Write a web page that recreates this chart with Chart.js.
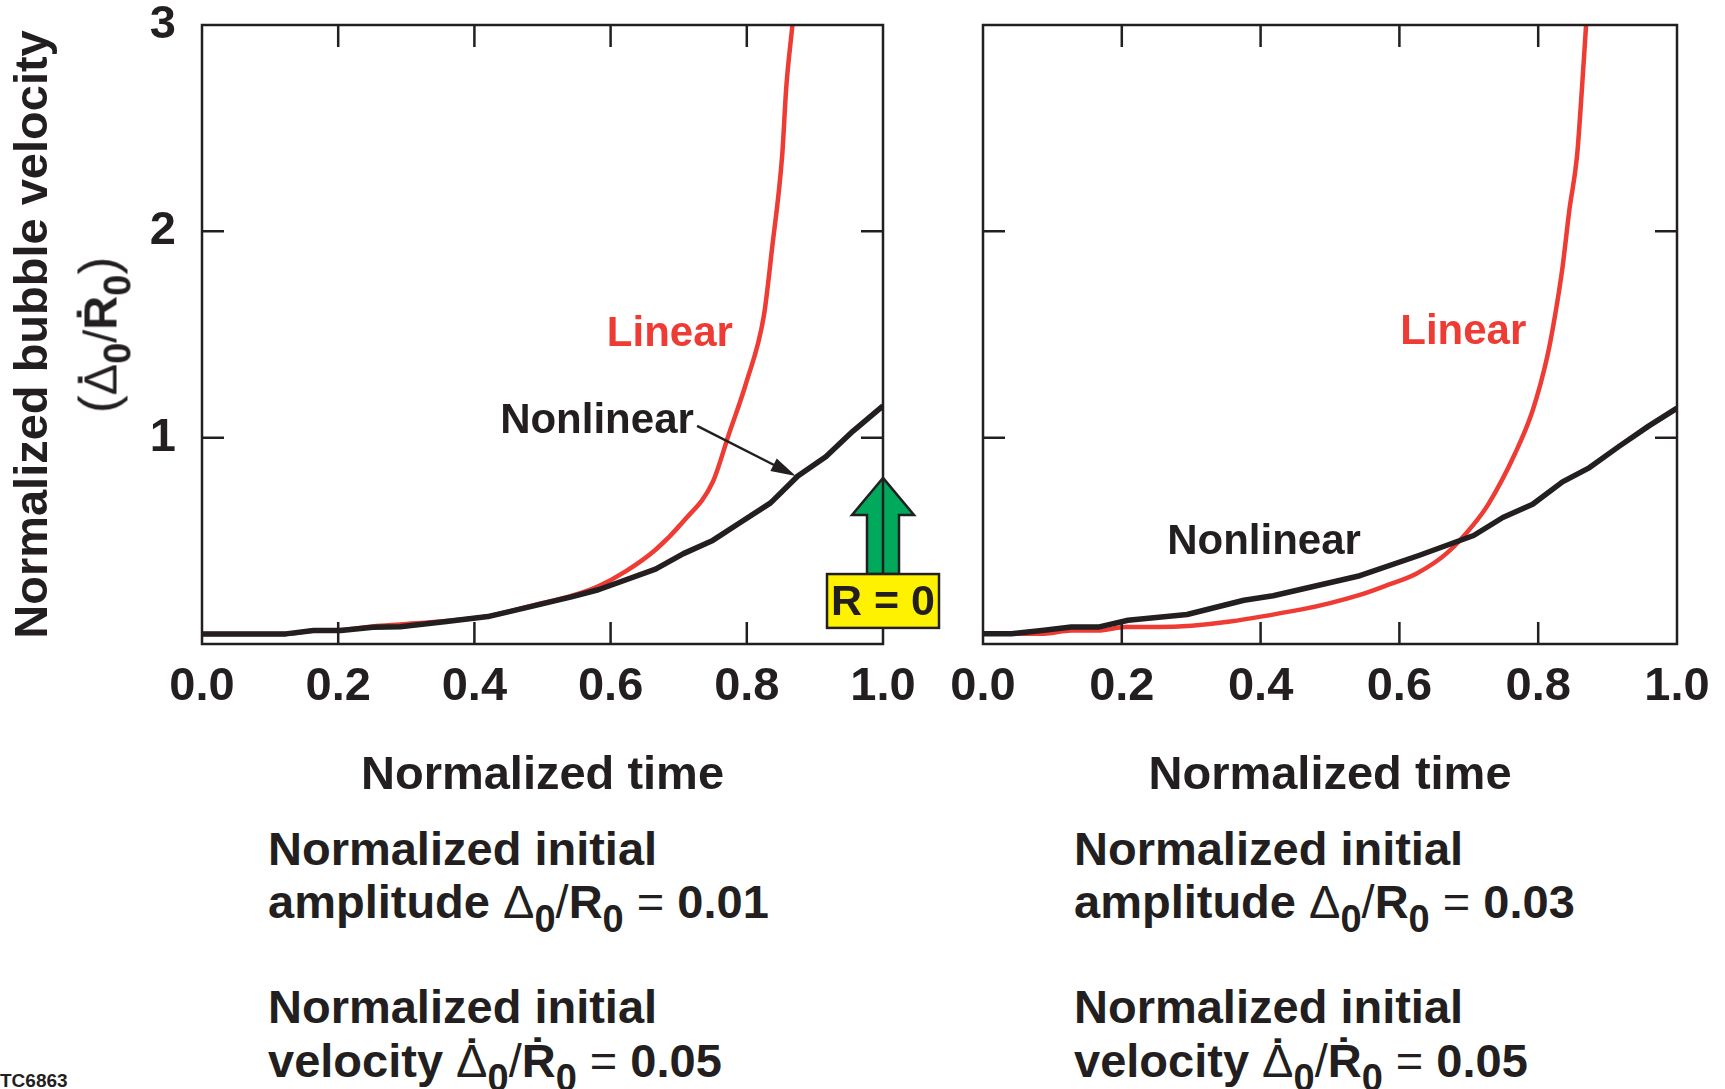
<!DOCTYPE html>
<html>
<head>
<meta charset="utf-8">
<script src="https://cdn.jsdelivr.net/npm/chart.js@4.4.1/dist/chart.umd.min.js"></script>
<style>
  html,body{margin:0;padding:0;background:#fff;}
  body{width:1725px;height:1089px;position:relative;overflow:hidden;font-family:'Liberation Sans',Arial,Helvetica,sans-serif;color:#231f20;}
  canvas{position:absolute;top:0;}
  #c1{left:0;} #c2{left:946px;}
  .txt{position:absolute;font-size:47px;font-weight:bold;line-height:47px;white-space:nowrap;}
  .thin{font-weight:normal;}
  .par{font-weight:normal;font-size:54px;}
  .dd{position:relative;display:inline-block;font-weight:normal;}
  .dot{position:absolute;left:50%;top:-5px;transform:translateX(-50%);font-weight:bold;}
  sub{font-size:38px;vertical-align:-14px;line-height:0;}
  #ytitle2{left:99px;top:335px;transform:translate(-50%,-50%) rotate(-90deg);}
  #tag{position:absolute;left:0;top:1071px;font-size:19px;font-weight:bold;line-height:19px;}
</style>
</head>
<body>
<canvas id="c1" width="946" height="800"></canvas>
<canvas id="c2" width="779" height="800"></canvas>

<div class="txt" id="ytitle2"><span class="par">(</span><span class="dd">&#916;<span class="dot">&#729;</span></span><sub>0</sub><span class="thin">/</span>&#7768;<sub>0</sub><span class="par">)</span></div>

<div class="txt" style="left:268px;top:825px;">Normalized initial</div>
<div class="txt" style="left:268px;top:878px;">amplitude <span class="thin">&#916;</span><sub>0</sub><span class="thin">/</span>R<sub>0</sub> <span class="thin">=</span> 0.01</div>
<div class="txt" style="left:268px;top:983px;">Normalized initial</div>
<div class="txt" style="left:268px;top:1037px;">velocity <span class="dd">&#916;<span class="dot">&#729;</span></span><sub>0</sub><span class="thin">/</span>&#7768;<sub>0</sub> <span class="thin">=</span> 0.05</div>

<div class="txt" style="left:1074px;top:825px;">Normalized initial</div>
<div class="txt" style="left:1074px;top:878px;">amplitude <span class="thin">&#916;</span><sub>0</sub><span class="thin">/</span>R<sub>0</sub> <span class="thin">=</span> 0.03</div>
<div class="txt" style="left:1074px;top:983px;">Normalized initial</div>
<div class="txt" style="left:1074px;top:1037px;">velocity <span class="dd">&#916;<span class="dot">&#729;</span></span><sub>0</sub><span class="thin">/</span>&#7768;<sub>0</sub> <span class="thin">=</span> 0.05</div>

<div id="tag">TC6863</div>

<script>
// values (normalized time, normalized bubble velocity)
const leftNonlinT = [0, 0.123, 0.164, 0.204, 0.251, 0.291, 0.359, 0.42, 0.487, 0.541, 0.582, 0.666, 0.707, 0.75, 0.791, 0.835, 0.875, 0.916, 0.956, 1.0];
const leftNonlinV = [0.049, 0.049, 0.065, 0.065, 0.081, 0.084, 0.109, 0.133, 0.185, 0.227, 0.263, 0.363, 0.438, 0.502, 0.59, 0.684, 0.814, 0.908, 1.032, 1.154];
const leftLinT = [0, 0.123, 0.164, 0.204, 0.251, 0.291, 0.359, 0.42, 0.487, 0.541, 0.582, 0.622, 0.666, 0.707, 0.75, 0.774, 0.799, 0.825, 0.837, 0.852, 0.858, 0.867];
const leftLinV = [0.049, 0.049, 0.065, 0.068, 0.085, 0.095, 0.112, 0.135, 0.188, 0.232, 0.28, 0.352, 0.457, 0.595, 0.785, 1.02, 1.265, 1.59, 1.915, 2.37, 2.7, 3.0];

const rightNonlinT = [0, 0.041, 0.088, 0.127, 0.166, 0.209, 0.294, 0.376, 0.418, 0.543, 0.628, 0.707, 0.749, 0.792, 0.835, 0.874, 0.917, 0.959, 1.0];
const rightNonlinV = [0.05, 0.05, 0.067, 0.082, 0.082, 0.115, 0.143, 0.212, 0.234, 0.331, 0.429, 0.526, 0.613, 0.677, 0.786, 0.855, 0.959, 1.056, 1.143];
const rightLinT = [0, 0.088, 0.127, 0.166, 0.205, 0.251, 0.461, 0.543, 0.579, 0.625, 0.668, 0.707, 0.728, 0.767, 0.792, 0.813, 0.824, 0.835, 0.845, 0.856, 0.863, 0.869];
const rightLinV = [0.05, 0.05, 0.065, 0.065, 0.082, 0.082, 0.169, 0.238, 0.281, 0.342, 0.439, 0.58, 0.677, 0.926, 1.132, 1.392, 1.587, 1.825, 2.106, 2.366, 2.69, 3.0];

const xTicks = [0, 0.2, 0.4, 0.6, 0.8, 1.0];
const yTicks = [1, 2, 3];
const xMarks = [0.2, 0.4, 0.6, 0.8];
const yMarks = [1, 2];

const INK = '#231f20', RED = '#ee3b34', GREEN = '#00a95c', YELLOW = '#fff200';
const FAM = "'Liberation Sans', Arial, Helvetica, sans-serif";

const pts = (t, v) => t.map((x, i) => ({x, y: v[i]}));

const framePlugin = {
  id: 'frame',
  afterDatasetsDraw(chart, args, o) {
    const {ctx, chartArea: a} = chart;
    const X = v => chart.scales.x.getPixelForValue(v), Y = v => chart.scales.y.getPixelForValue(v);
    ctx.save();
    // green arrow goes under the frame line
    if (o.marker) {
      const m = o.marker, cx = X(m.x), tip = Y(m.tip), base = Y(m.boxTop);
      ctx.beginPath();
      ctx.moveTo(cx, tip);
      ctx.lineTo(cx + 31, tip + 37); ctx.lineTo(cx + 16, tip + 37); ctx.lineTo(cx + 16, base);
      ctx.lineTo(cx - 16, base); ctx.lineTo(cx - 16, tip + 37); ctx.lineTo(cx - 31, tip + 37);
      ctx.closePath();
      ctx.fillStyle = GREEN; ctx.fill();
      ctx.lineWidth = 2.5; ctx.strokeStyle = INK; ctx.stroke();
    }
    ctx.lineWidth = 2.5; ctx.strokeStyle = INK;
    ctx.strokeRect(a.left, a.top, a.width, a.height);
    ctx.beginPath();
    xMarks.forEach(v => {
      const p = X(v);
      ctx.moveTo(p, a.bottom); ctx.lineTo(p, a.bottom - 22);
      ctx.moveTo(p, a.top); ctx.lineTo(p, a.top + 22);
    });
    yMarks.forEach(v => {
      const p = Y(v);
      ctx.moveTo(a.left, p); ctx.lineTo(a.left + 22, p);
      ctx.moveTo(a.right, p); ctx.lineTo(a.right - 22, p);
    });
    ctx.stroke();

    ctx.textAlign = 'center'; ctx.textBaseline = 'middle';
    (o.labels || []).forEach(l => {
      ctx.fillStyle = l.color; ctx.font = 'bold 42px ' + FAM;
      ctx.fillText(l.text, X(l.x), Y(l.y));
    });

    if (o.pointer) {
      const p = o.pointer, x0 = X(p.from[0]), y0 = Y(p.from[1]), x1 = X(p.to[0]), y1 = Y(p.to[1]);
      const ang = Math.atan2(y1 - y0, x1 - x0);
      ctx.beginPath(); ctx.moveTo(x0, y0);
      ctx.lineTo(x1 - 20 * Math.cos(ang), y1 - 20 * Math.sin(ang));
      ctx.lineWidth = 2.5; ctx.stroke();
      ctx.beginPath(); ctx.moveTo(x1, y1);
      ctx.lineTo(x1 - 25 * Math.cos(ang) + 7 * Math.sin(ang), y1 - 25 * Math.sin(ang) - 7 * Math.cos(ang));
      ctx.lineTo(x1 - 25 * Math.cos(ang) - 7 * Math.sin(ang), y1 - 25 * Math.sin(ang) + 7 * Math.cos(ang));
      ctx.closePath(); ctx.fillStyle = INK; ctx.fill();
    }

    if (o.marker) {
      const m = o.marker, cx = X(m.x), top = Y(m.boxTop), bot = Y(m.boxBottom);
      ctx.fillStyle = YELLOW; ctx.fillRect(cx - 56, top, 112, bot - top);
      ctx.lineWidth = 2.5; ctx.strokeStyle = INK; ctx.strokeRect(cx - 56, top, 112, bot - top);
      ctx.fillStyle = INK; ctx.font = 'bold 43px ' + FAM;
      ctx.fillText(m.text, cx, (top + bot) / 2 + 2);
    }
    ctx.restore();
  }
};

// drop the label overflow padding so the plot box lands where the figure has it
const noPad = s => { s.paddingTop = 0; s.paddingBottom = 0; s.paddingLeft = 0; s.paddingRight = 0; };

function makeChart(id, cfg) {
  const font = {family: FAM, size: 47, weight: 'bold', lineHeight: 1};
  return new Chart(document.getElementById(id), {
    type: 'scatter',
    data: {datasets: [
      {label: 'Nonlinear', data: cfg.nonlin, showLine: true, borderColor: INK, borderWidth: 5.5, pointRadius: 0, borderJoinStyle: 'round'},
      {label: 'Linear', data: cfg.lin, showLine: true, borderColor: RED, borderWidth: 4.5, pointRadius: 0, cubicInterpolationMode: 'monotone'}
    ]},
    options: {
      responsive: false, animation: false, devicePixelRatio: 1,
      layout: {padding: {top: 25, right: cfg.padRight, left: 0, bottom: 0}},
      plugins: {legend: {display: false}, tooltip: {enabled: false}, frame: cfg.frame},
      scales: {
        x: {
          type: 'linear', min: 0, max: 1,
          afterBuildTicks: s => { s.ticks = xTicks.map(v => ({value: v})); },
          afterFit: s => { s.height = 156; noPad(s); },
          ticks: {callback: v => v.toFixed(1), font, color: INK, padding: 20, maxRotation: 0, minRotation: 0, autoSkip: false},
          grid: {display: false, drawTicks: false}, border: {display: false},
          title: {display: true, text: 'Normalized time', font, color: INK, padding: {top: 0, bottom: 0}}
        },
        y: {
          type: 'linear', min: 0, max: 3,
          afterBuildTicks: s => { s.ticks = yTicks.map(v => ({value: v})); },
          afterFit: s => { s.width = cfg.yWidth; noPad(s); },
          ticks: {display: cfg.yLabels, font, color: INK, padding: 26},
          grid: {display: false, drawTicks: false}, border: {display: false},
          title: {display: cfg.yLabels, text: 'Normalized bubble velocity', font, color: INK, padding: {top: 11, bottom: 0}}
        }
      }
    },
    plugins: [framePlugin]
  });
}

makeChart('c1', {
  nonlin: pts(leftNonlinT, leftNonlinV), lin: pts(leftLinT, leftLinV),
  yWidth: 202, padRight: 63, yLabels: true,
  frame: {
    labels: [{text: 'Linear', x: 0.687, y: 1.50, color: RED}, {text: 'Nonlinear', x: 0.58, y: 1.08, color: INK}],
    pointer: {from: [0.727, 1.057], to: [0.872, 0.814]},
    marker: {x: 1.0, tip: 0.805, boxTop: 0.339, boxBottom: 0.078, text: 'R = 0'}
  }
});

makeChart('c2', {
  nonlin: pts(rightNonlinT, rightNonlinV), lin: pts(rightLinT, rightLinV),
  yWidth: 37, padRight: 48, yLabels: false,
  frame: {
    labels: [{text: 'Linear', x: 0.692, y: 1.508, color: RED}, {text: 'Nonlinear', x: 0.405, y: 0.494, color: INK}]
  }
});
</script>
</body>
</html>
